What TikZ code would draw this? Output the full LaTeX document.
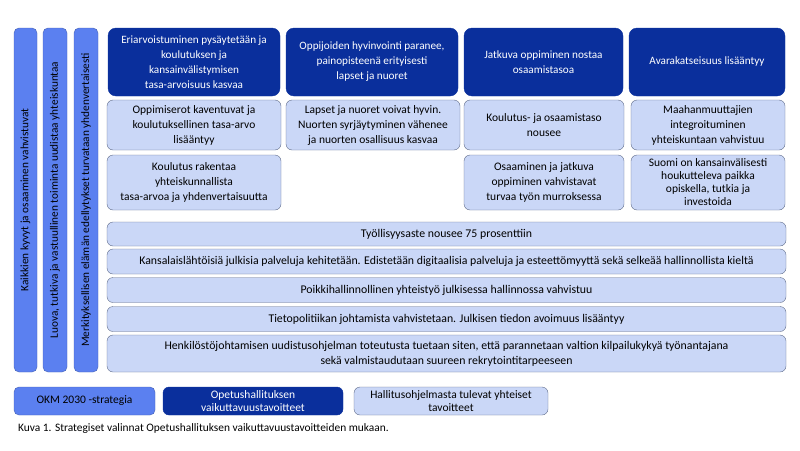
\documentclass[tikz,border=0pt]{standalone}
\usepackage{fontspec}
\setmainfont{Carlito}
\definecolor{okmblue}{HTML}{5B80F0}
\definecolor{ophdark}{HTML}{0A2F9C}
\definecolor{hallight}{HTML}{CAD7F7}
\definecolor{edgegray}{HTML}{5F6B88}
\tikzset{
  strbox/.style={draw=okmblue!75!black, fill=okmblue, rounded corners=5pt,
                 inner sep=2pt, align=center, text=black,
                 font=\fontsize{11.3}{13}\selectfont},
  ophbox/.style={draw=ophdark, fill=ophdark, rounded corners=8pt,
                 inner sep=2pt, align=center, text=white,
                 font=\fontsize{11.2}{15}\selectfont},
  halbox/.style={draw=edgegray, fill=hallight, rounded corners=6pt,
                 inner sep=2pt, align=center, text=black,
                 font=\fontsize{11.5}{15}\selectfont},
  rowbox/.style={halbox, font=\fontsize{11.8}{15}\selectfont}}

\begin{document}
\begin{tikzpicture}[x=1pt,y=-1pt,
    bx/.style 2 args={minimum width=#1, minimum height=#2}]
  \useasboundingbox (0,0) rectangle (800,450);
  \node[strbox, rotate=90, bx={344}{23}] (kyvyt) at (25.5,200)
    {Kaikkien kyvyt ja osaaminen vahvistuvat};
  \node[strbox, rotate=90, bx={344}{24}] (luova) at (55,200)
    {Luova, tutkiva ja vastuullinen toiminta uudistaa yhteiskuntaa};
  \node[strbox, rotate=90, bx={344}{24}] (elama) at (86,200)
    {Merkityksellisen elämän edellytykset turvataan yhdenvertaisesti};

  \node[ophbox, bx={172}{68}] (tasa) at (194,62)
    {Eriarvoistuminen pysäytetään ja\\ koulutuksen ja\\ kansainvälistymisen\\ tasa-arvoisuus kasvaa};
  \node[ophbox, bx={172}{68}] (hyvin) at (372,62)
    {Oppijoiden hyvinvointi paranee,\\ painopisteenä erityisesti\\ lapset ja nuoret};
  \node[ophbox, bx={159}{68}] (jatkuva) at (543.5,62)
    {Jatkuva oppiminen nostaa\\ osaamistasoa};
  \node[ophbox, bx={156}{68}] (avara) at (707,62)
    {Avarakatseisuus lisääntyy};

  \node[halbox, bx={174}{50}] (erot) at (194,125)
    {Oppimiserot kaventuvat ja\\ koulutuksellinen tasa-arvo\\ lisääntyy};
  \node[halbox, bx={174}{50}] (nuoret) at (373,125)
    {Lapset ja nuoret voivat hyvin.\\ Nuorten syrjäytyminen vähenee\\ ja nuorten osallisuus kasvaa};
  \node[halbox, bx={160}{50}] (taso) at (544,125)
    {Koulutus- ja osaamistaso\\ nousee};
  \node[halbox, bx={154}{50}] (maahan) at (708,125)
    {Maahanmuuttajien\\ integroituminen\\ yhteiskuntaan vahvistuu};

  \node[halbox, bx={174}{55}] (rakentaa) at (194,182.5)
    {Koulutus rakentaa\\ yhteiskunnallista\\ tasa-arvoa ja yhdenvertaisuutta};
  \node[halbox, bx={160}{55}] (murros) at (544,182.5)
    {Osaaminen ja jatkuva\\ oppiminen vahvistavat\\ turvaa työn murroksessa};
  \node[halbox, bx={154}{55}, font=\fontsize{11.5}{13}\selectfont] (suomi) at (708,182.5)
    {Suomi on kansainvälisesti\\ houkutteleva paikka\\ opiskella, tutkia ja\\ investoida};

  \node[rowbox, bx={679}{24}] (tyollisyys) at (446.5,234)
    {Työllisyysaste nousee 75 prosenttiin};
  \node[rowbox, bx={679}{25}] (palvelut) at (446.5,261.5)
    {Kansalaislähtöisiä julkisia palveluja kehitetään. Edistetään digitaalisia palveluja ja esteettömyyttä sekä selkeää hallinnollista kieltä};
  \node[rowbox, bx={679}{25}] (poikki) at (446.5,290)
    {Poikkihallinnollinen yhteistyö julkisessa hallinnossa vahvistuu};
  \node[rowbox, bx={679}{25}] (tieto) at (446.5,319)
    {Tietopolitiikan johtamista vahvistetaan. Julkisen tiedon avoimuus lisääntyy};
  \node[rowbox, bx={679}{37}] (henkilosto) at (446.5,353.5)
    {Henkilöstöjohtamisen uudistusohjelman toteutusta tuetaan siten, että parannetaan valtion kilpailukykyä työnantajana\\ sekä valmistaudutaan suureen rekrytointitarpeeseen};

  \node[strbox, bx={141}{28}, font=\fontsize{11.5}{13}\selectfont] (okm) at (84.5,401)
    {OKM 2030 -strategia};
  \node[ophbox, bx={180}{28}, rounded corners=6pt, font=\fontsize{11.5}{13}\selectfont] (oph) at (253,401)
    {Opetushallituksen\\ vaikuttavuustavoitteet};
  \node[halbox, bx={194}{28}, font=\fontsize{11.5}{13}\selectfont] (hallitus) at (451,401)
    {Hallitusohjelmasta tulevat yhteiset\\ tavoitteet};

  \node[anchor=west, inner sep=0pt, font=\fontsize{11.4}{13}\selectfont] (kuva) at (18,429)
    {Kuva 1. Strategiset valinnat Opetushallituksen vaikuttavuustavoitteiden mukaan.};
\end{tikzpicture}
\end{document}
